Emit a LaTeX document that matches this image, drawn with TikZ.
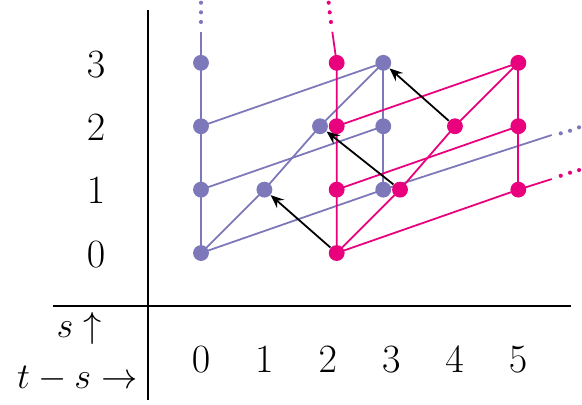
\RequirePackage{fix-cm}
\documentclass[tikz,border=0pt]{standalone}
\usetikzlibrary{arrows.meta}
\definecolor{pur}{RGB}{124,120,186}
\definecolor{mag}{RGB}{233,0,125}
\pgfdeclarelayer{lines}
\pgfsetlayers{lines,main}
\begin{document}
\begin{tikzpicture}[
  pdot/.style={circle,fill=pur,inner sep=0pt,minimum size=0.25cm},
  mdot/.style={circle,fill=mag,inner sep=0pt,minimum size=0.25cm},
  pell/.style={circle,fill=pur,inner sep=0pt,minimum size=0.065cm},
  mell/.style={circle,fill=mag,inner sep=0pt,minimum size=0.065cm},
  pline/.style={draw=pur,line width=0.8pt},
  mline/.style={draw=mag,line width=0.8pt},
  diff/.style={draw=black,line width=0.8pt,-{Stealth[length=6pt,width=5pt,inset=2.2pt]}},
  axis/.style={draw=black,line width=0.8pt},
  num/.style={font=\fontsize{18}{22}\selectfont},
  lab/.style={font=\fontsize{16.3}{19}\selectfont},
]
\useasboundingbox (-3.170,-2.382) rectangle (6.009,3.991);

% purple dots
\node[pdot] (P00) at (0,0) {};
\node[pdot] (P01) at (0,1) {};
\node[pdot] (P02) at (0,2) {};
\node[pdot] (P03) at (0,3) {};
\node[pdot] (P11) at (1,1) {};
\node[pdot] (P22) at (1.877,2) {};
\node[pdot] (P31) at (2.875,1) {};
\node[pdot] (P32) at (2.875,2) {};
\node[pdot] (P33) at (2.875,3) {};
% magenta dots
\node[mdot] (M20) at (2.14,0) {};
\node[mdot] (M21) at (2.14,1) {};
\node[mdot] (M22) at (2.14,2) {};
\node[mdot] (M23) at (2.14,3) {};
\node[mdot] (M31) at (3.139,1) {};
\node[mdot] (M42) at (4.005,2) {};
\node[mdot] (M51) at (5.005,1) {};
\node[mdot] (M52) at (5.005,2) {};
\node[mdot] (M53) at (5.005,3) {};

% continuation ends and dots
\coordinate (ptop) at (0,3.49);
\node[pell] (pe1) at (0,3.644) {};
\node[pell] (pe2) at (0,3.797) {};
\node[pell] (pe3) at (0,3.948) {};
\coordinate (mtop) at (2.071,3.49);
\node[mell] (me1) at (2.050,3.644) {};
\node[mell] (me2) at (2.030,3.797) {};
\node[mell] (me3) at (2.014,3.948) {};
\coordinate (pext) at (5.532,1.861);
\node[pell] (pr1) at (5.674,1.888) {};
\node[pell] (pr2) at (5.820,1.929) {};
\node[pell] (pr3) at (5.962,1.983) {};
\coordinate (mext) at (5.532,1.167);
\node[mell] (mr1) at (5.674,1.219) {};
\node[mell] (mr2) at (5.820,1.267) {};
\node[mell] (mr3) at (5.962,1.309) {};

\begin{pgfonlayer}{lines}
% purple connectors
\path[pline] (P00.center) -- (P01.center) -- (P02.center) -- (P03.center) -- (ptop);
\path[pline] (P31.center) -- (P32.center) -- (P33.center);
\path[pline] (P00.center) -- (P11.center) -- (P22.center) -- (P33.center);
\path[pline] (P00.center) -- (P31.center) -- (pext);
\path[pline] (P01.center) -- (P32.center);
\path[pline] (P02.center) -- (P33.center);
% magenta connectors
\path[mline] (M20.center) -- (M21.center) -- (M22.center) -- (M23.center) -- (mtop);
\path[mline] (M51.center) -- (M52.center) -- (M53.center);
\path[mline] (M20.center) -- (M31.center) -- (M42.center) -- (M53.center);
\path[mline] (M20.center) -- (M51.center) -- (mext);
\path[mline] (M21.center) -- (M52.center);
\path[mline] (M22.center) -- (M53.center);
\end{pgfonlayer}

% differentials
\path[diff] (M20) -- (P11);
\path[diff] (M31) -- (P22);
\path[diff] (M42) -- (P33);

% axes
\coordinate (axT) at (-0.833,3.83);
\coordinate (axB) at (-0.833,-2.32);
\coordinate (axL) at (-2.334,-0.831);
\coordinate (axR) at (5.83,-0.831);
\path[axis] (axT) -- (axB);
\path[axis] (axL) -- (axR);

% row labels
\node[num] (r0) at (-1.656,-0.02) {$0$};
\node[num] (r1) at (-1.656,0.98) {$1$};
\node[num] (r2) at (-1.656,1.98) {$2$};
\node[num] (r3) at (-1.656,2.98) {$3$};
% column labels
\node[num] (c0) at (0,-1.68) {$0$};
\node[num] (c1) at (1,-1.68) {$1$};
\node[num] (c2) at (2,-1.68) {$2$};
\node[num] (c3) at (3,-1.68) {$3$};
\node[num] (c4) at (4,-1.68) {$4$};
\node[num] (c5) at (5,-1.68) {$5$};
% axis labels
\node[lab,anchor=base east,inner sep=0pt] (sl) at (-1.561,-1.325) {$s\uparrow$};
\node[lab,anchor=base east,inner sep=0pt] (tl) at (-0.994,-2.129) {$t-s\rightarrow$};
\end{tikzpicture}
\end{document}
